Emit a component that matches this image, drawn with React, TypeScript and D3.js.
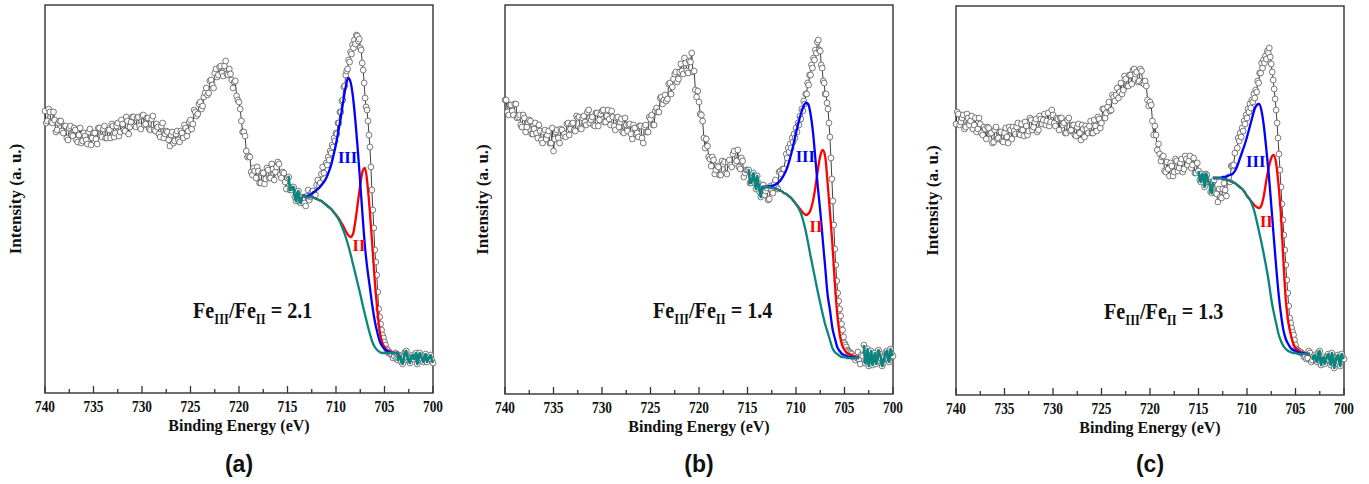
import React from 'react';
import * as d3 from 'd3';

// ---- energy grids (eV) of the measured spectra ----
const LEFT_E0 = 740;
const LEFT_STEP = 0.25;
const MID_E0 = 739.875;
const FINE_E0 = 711;
const FINE_STEP = 0.1;
const RIGHT_E0 = 704.5;
const RIGHT_MID_E0 = 704.375;
const RIGHT_STEP = 0.25;
const FIT_E0 = 713.5;
const FIT_STEP = 0.25;

const majorTicks = [740, 735, 730, 725, 720, 715, 710, 705, 700];
const minorTicks = [737.5, 732.5, 727.5, 722.5, 717.5, 712.5, 707.5, 702.5];

// ---- panel (a) ----
const aLeft = [
  282, 272, 281, 270, 273, 263, 272, 262, 267, 255,
  265, 258, 265, 253, 258, 250, 260, 253, 261, 248,
  260, 254, 265, 257, 264, 255, 263, 255, 267, 260,
  270, 261, 269, 262, 272, 266, 276, 267, 275, 267,
  277, 268, 275, 264, 274, 263, 269, 259, 267, 255,
  262, 253, 258, 250, 259, 253, 262, 255, 265, 262,
  273, 269, 281, 279, 291, 287, 300, 298, 312, 308,
  320, 316, 326, 320, 327, 319, 324, 313, 311, 297,
  291, 272, 261, 242, 237, 221, 225, 215, 222, 210,
  220, 214, 223, 215, 224, 221, 231, 218, 221, 211,
  215, 203, 206, 196, 200, 191, 196, 190, 197, 193,
  201, 199, 208, 208, 219, 220,
];
const aMid = [
  270, 284, 271, 281, 261, 270, 272, 260, 267, 253,
  267, 257, 263, 251, 265, 252, 257, 249, 264, 255,
  260, 249, 265, 256, 267, 255, 263, 269, 256, 267,
  257, 273, 263, 276, 259, 271, 276, 266, 276, 264,
  278, 269, 275, 263, 277, 262, 266, 256, 270, 259,
  261, 247, 261, 252, 262, 251, 260, 268, 257, 271,
  264, 283, 277, 289, 284, 296, 305, 300, 313, 305,
  324, 318, 327, 317, 332, 318, 319, 305, 312, 293,
  284, 261, 257, 236, 236, 218, 222, 226, 210, 220,
  209, 225, 215, 229, 213, 226, 229, 215, 220, 204,
  216, 203, 206, 192, 202, 190, 195, 187, 203, 196,
  202, 198, 213, 210, 226,
];
const aFine = [
  230, 228, 236, 233, 242, 240, 248, 246, 255, 252,
  260, 259, 270, 270, 281, 281, 292, 293, 306, 307,
  318, 322, 324, 333, 331, 341, 339, 348, 345, 353,
  349, 358, 357, 352, 354, 345, 343, 330, 323, 310,
  295, 286, 283, 272, 258, 246, 226, 203, 183, 165,
  143, 131, 118, 101, 84, 76, 69, 63, 58, 55,
  51, 48, 44, 43, 40,
];
const aRight = [41, 38, 37, 34, 38, 31, 36, 42, 32, 37, 34, 40, 33, 37, 31, 39, 34, 38, 30];
const aRightMid = [39, 35, 40, 33, 37, 29, 41, 35, 30, 38, 36, 29, 40, 34, 37, 31, 36, 33];
const aTeal = [
  197, 197, 196, 196, 196, 195, 194, 193, 192, 190, 188, 186, 184, 181, 178, 174, 169, 163, 156, 148,
  139, 129, 119, 109, 99, 88, 78, 68, 59, 51, 46, 43, 41, 40, 40, 40, 40, 40, 40, 40, 40,
];
const aBlue = [
  197, 197, 197, 198, 199, 201, 203, 205, 208, 211, 215, 221, 228, 238, 249, 262, 276, 292, 306, 315,
  311, 296, 272, 243, 210, 176, 145, 123, 105, 87, 72, 61, 52, 47, 44, 42, 41, 40, 40, 40, 40,
];
const aRed = [
  197, 197, 196, 196, 196, 195, 194, 193, 192, 190, 188, 186, 184, 181, 178, 175, 171, 167, 162, 158,
  156, 159, 172, 190, 208, 222, 225, 208, 180, 147, 112, 84, 62, 51, 46, 43, 42, 41, 40, 40, 40,
];

// ---- panel (b) ----
const bLeft = [
  294, 282, 289, 283, 290, 276, 279, 267, 276, 267,
  274, 260, 265, 261, 269, 254, 262, 255, 263, 251,
  243, 262, 256, 265, 258, 257, 271, 265, 271, 263,
  276, 266, 276, 272, 282, 271, 277, 268, 281, 274,
  283, 272, 278, 275, 283, 268, 276, 267, 275, 261,
  269, 269, 260, 269, 260, 257, 268, 251, 269, 262,
  275, 269, 283, 282, 296, 290, 299, 295, 311, 307,
  320, 312, 322, 323, 336, 323, 333, 341, 323, 297,
  292, 279, 256, 255, 237, 228, 234, 224, 227, 219,
  230, 221, 232, 229, 240, 231, 244, 225, 233, 221,
  224, 211, 216, 211, 218, 202, 208, 199, 206, 195,
  204, 210, 207, 222, 220, 225,
];
const bMid = [
  294, 279, 289, 279, 290, 277, 269, 279, 262, 272,
  273, 260, 271, 256, 263, 251, 264, 259, 251, 266,
  255, 264, 251, 264, 260, 270, 259, 270, 264, 278,
  277, 265, 278, 269, 284, 274, 269, 281, 268, 280,
  284, 272, 284, 269, 277, 264, 277, 272, 262, 276,
  263, 270, 255, 266, 261, 268, 256, 267, 262, 277,
  279, 269, 286, 282, 297, 294, 293, 310, 300, 315,
  322, 315, 330, 320, 331, 321, 332, 322, 304, 303,
  280, 273, 246, 248, 235, 237, 220, 228, 219, 233,
  232, 220, 234, 227, 243, 233, 227, 236, 217, 224,
  224, 211, 221, 205, 211, 197, 209, 203, 194, 208,
  201, 214, 205, 223, 225,
];
const bFine = [
  240, 236, 246, 242, 250, 246, 256, 252, 260, 256,
  266, 262, 271, 269, 278, 275, 285, 283, 293, 290,
  300, 300, 311, 309, 319, 319, 329, 326, 336, 334,
  344, 341, 352, 354, 344, 343, 329, 326, 313, 311,
  300, 300, 291, 285, 271, 257, 236, 215, 193, 169,
  145, 129, 113, 101, 93, 85, 78, 70, 64, 57,
  51, 49, 47, 44, 43,
];
const bRight = [42, 40, 38, 36, 35, 39, 49, 33, 28, 43, 35, 30, 44, 36, 31, 42, 34, 45, 38];
const bRightMid = [41, 37, 34, 42, 30, 38, 31, 45, 36, 29, 41, 33, 40, 28, 37, 43, 32, 40];
const bTeal = [
  207, 207, 207, 207, 206, 206, 205, 204, 203, 201, 200, 198, 196, 193, 190, 186, 181, 173, 163, 151,
  138, 126, 114, 102, 91, 80, 70, 62, 54, 46, 42, 40, 38, 37, 37, 36, 36, 36, 36, 36, 36,
];
const bBlue = [
  207, 207, 207, 208, 208, 209, 210, 212, 215, 219, 224, 231, 240, 250, 261, 271, 280, 287, 291, 290,
  280, 262, 235, 207, 183, 155, 128, 100, 84, 66, 56, 47, 43, 40, 39, 38, 37, 37, 36, 36, 36,
];
const bRed = [
  207, 207, 207, 207, 206, 206, 205, 204, 203, 201, 200, 198, 196, 193, 190, 187, 184, 181, 179, 180,
  184, 193, 207, 224, 238, 244, 238, 212, 182, 150, 112, 80, 60, 49, 44, 41, 40, 39, 38, 37, 36,
];

// ---- panel (c) ----
const cLeft = [
  271, 281, 273, 280, 268, 277, 274, 266, 277, 266,
  271, 260, 266, 268, 261, 252, 265, 256, 263, 254,
  262, 258, 268, 256, 264, 268, 261, 271, 259, 269,
  264, 275, 268, 276, 265, 276, 275, 270, 282, 273,
  280, 269, 276, 277, 270, 262, 275, 264, 270, 260,
  268, 262, 270, 258, 266, 269, 262, 275, 264, 276,
  272, 286, 282, 293, 285, 298, 300, 297, 312, 305,
  316, 309, 320, 325, 321, 313, 326, 312, 314, 295,
  293, 274, 269, 245, 241, 238, 224, 233, 219, 229,
  223, 234, 227, 236, 226, 236, 234, 227, 237, 222,
  224, 213, 219, 221, 213, 203, 213, 202, 193, 198,
  206, 205, 217, 213, 229, 242,
];
const cMid = [
  283, 270, 277, 266, 281, 270, 279, 270, 263, 277,
  262, 268, 256, 267, 262, 253, 268, 257, 263, 253,
  267, 252, 265, 268, 261, 272, 260, 265, 273, 260,
  277, 265, 273, 263, 279, 271, 281, 274, 269, 285,
  272, 277, 265, 277, 272, 262, 277, 265, 270, 259,
  271, 255, 266, 269, 262, 274, 262, 269, 278, 267,
  286, 277, 288, 284, 300, 294, 307, 303, 301, 319,
  309, 320, 311, 326, 323, 314, 324, 311, 309, 289,
  290, 260, 260, 251, 234, 239, 223, 226, 232, 219,
  236, 224, 232, 223, 239, 230, 239, 230, 222, 232,
  215, 221, 208, 220, 213, 202, 215, 201, 206, 197,
  212, 199, 218, 229, 230,
];
const cFine = [
  247, 257, 254, 262, 258, 267, 264, 274, 271, 280,
  277, 286, 283, 291, 287, 295, 293, 301, 297, 305,
  303, 314, 312, 322, 322, 332, 327, 335, 332, 339,
  336, 344, 342, 347, 338, 331, 323, 315, 306, 296,
  285, 272, 257, 241, 225, 208, 191, 175, 160, 145,
  130, 115, 102, 89, 77, 72, 67, 63, 60, 55,
  50, 46, 45, 44, 43,
];
const cRight = [43, 41, 39, 37, 42, 35, 40, 33, 44, 36, 31, 39, 35, 42, 27, 38, 33, 41, 36];
const cRightMid = [42, 38, 36, 44, 33, 39, 34, 43, 30, 38, 35, 41, 30, 37, 34, 40, 29, 38];
const cTeal = [
  217, 217, 217, 217, 216, 216, 215, 214, 213, 212, 210, 208, 206, 203, 199, 196, 191, 184, 174, 163,
  152, 140, 127, 113, 96, 83, 72, 61, 54, 49, 46, 44, 43, 42, 42, 41, 41, 41, 41, 41, 41,
];
const cBlue = [
  217, 217, 217, 217, 218, 218, 219, 220, 221, 224, 229, 236, 243, 250, 258, 267, 276, 285, 290, 291,
  284, 268, 245, 220, 190, 159, 129, 102, 81, 65, 56, 51, 47, 45, 44, 43, 42, 42, 41, 41, 41,
];
const cRed = [
  217, 217, 217, 217, 216, 216, 215, 214, 213, 212, 210, 208, 206, 203, 199, 196, 193, 190, 188, 187,
  190, 200, 215, 228, 237, 240, 232, 210, 180, 135, 95, 74, 61, 52, 47, 45, 43, 42, 42, 41, 41,
];

const ratios = ['2.1', '1.4', '1.3'];
const letters = ['(a)', '(b)', '(c)'];

type Pt = { e: number; v: number };
const seg = (vals: number[], e0: number, step: number): Pt[] =>
  vals.map((v, i) => ({ e: +(e0 - step * i).toFixed(4), v }));

const SERIF = "'Liberation Serif', 'Times New Roman', Times, serif";
const SANS = "'Liberation Sans', Arial, Helvetica, sans-serif";

const panels = [
  {
    box: { l: 45, r: 433, t: 5, b: 393 }, yLabelX: 21,
    left: aLeft, mid: aMid, fine: aFine, right: aRight, rightMid: aRightMid,
    teal: aTeal, blue: aBlue, red: aRed,
    bgHigh: [715, 713.5], bgLow: 703.75, ratio: ratios[0], letter: letters[0],
    iii: [708.81, 230], ii: [707.63, 142],
  },
  {
    box: { l: 505, r: 893, t: 5, b: 394 }, yLabelX: 488,
    left: bLeft, mid: bMid, fine: bFine, right: bRight, rightMid: bRightMid,
    teal: bTeal, blue: bBlue, red: bRed,
    bgHigh: [715, 713.5], bgLow: 703.0, ratio: ratios[1], letter: letters[1],
    iii: [709.04, 232], ii: [707.94, 162],
  },
  {
    box: { l: 956, r: 1344, t: 6, b: 395 }, yLabelX: 938,
    left: cLeft, mid: cMid, fine: cFine, right: cRight, rightMid: cRightMid,
    teal: cTeal, blue: cBlue, red: cRed,
    bgHigh: [715, 713.5], bgLow: 703.25, ratio: ratios[2], letter: letters[2],
    iii: [709.1, 228], ii: [708.01, 168],
  },
];

function Panel({ p }: { p: any }) {
  const { l, r, t, b } = p.box;
  const x = d3.scaleLinear().domain([740, 700]).range([l, r]);
  const y = d3.scaleLinear().domain([0, b - t]).range([b, t]);
  const data: Pt[] = [
    ...seg(p.left, LEFT_E0, LEFT_STEP),
    ...seg(p.mid, MID_E0, LEFT_STEP),
    ...seg(p.fine, FINE_E0, FINE_STEP),
    ...seg(p.right, RIGHT_E0, RIGHT_STEP),
    ...seg(p.rightMid, RIGHT_MID_E0, RIGHT_STEP),
  ].sort((u, w) => w.e - u.e);
  const raw = d3.line<Pt>().x((d) => x(d.e)).y((d) => y(d.v));
  const smooth = d3.line<Pt>().x((d) => x(d.e)).y((d) => y(d.v)).curve(d3.curveMonotoneX);
  const bgA = data.filter((d) => d.e <= p.bgHigh[0] && d.e >= p.bgHigh[1]);
  const bgB = data.filter((d) => d.e <= p.bgLow);
  const tealFit = seg(p.teal, FIT_E0, FIT_STEP);
  const blueFit = seg(p.blue, FIT_E0, FIT_STEP);
  const redFit = seg(p.red, FIT_E0, FIT_STEP);
  const cx = (l + r) / 2;
  const cy = (t + b) / 2;
  return (
    <g>
      <rect x={l} y={t} width={r - l} height={b - t} fill="none" stroke="#333" strokeWidth={1.4} />
      {majorTicks.map((e) => (
        <line key={'M' + e} x1={x(e)} x2={x(e)} y1={b} y2={b - 7} stroke="#333" strokeWidth={1.3} />
      ))}
      {minorTicks.map((e) => (
        <line key={'m' + e} x1={x(e)} x2={x(e)} y1={b} y2={b - 4} stroke="#333" strokeWidth={1.3} />
      ))}
      {majorTicks.map((e) => (
        <text key={'L' + e} x={x(e)} y={b + 19} textAnchor="middle" fontFamily={SERIF} fontWeight="bold"
          fontSize={17} textLength={20} lengthAdjust="spacingAndGlyphs" fill="#111">{e}</text>
      ))}
      <path d={raw(data) || ''} fill="none" stroke="#111" strokeWidth={0.8} />
      {data.map((d, i) => (
        <circle key={i} cx={x(d.e)} cy={y(d.v)} r={2.9} fill="#fff" stroke="#444" strokeWidth={0.7} />
      ))}
      <path d={raw(bgA) || ''} fill="none" stroke="#0b8480" strokeWidth={2.6} strokeLinejoin="round" />
      <path d={raw(bgB) || ''} fill="none" stroke="#0b8480" strokeWidth={2.6} strokeLinejoin="round" />
      <path d={smooth(redFit) || ''} fill="none" stroke="#ff0000" strokeWidth={2.3} />
      <path d={smooth(blueFit) || ''} fill="none" stroke="#0000ff" strokeWidth={2.3} />
      <path d={smooth(tealFit) || ''} fill="none" stroke="#0b8480" strokeWidth={2.3} />
      <text x={x(p.iii[0])} y={y(p.iii[1])} textAnchor="middle" fontFamily={SERIF} fontWeight="bold"
        fontSize={16.5} fill="#0000ff">III</text>
      <text x={x(p.ii[0])} y={y(p.ii[1])} textAnchor="middle" fontFamily={SERIF} fontWeight="bold"
        fontSize={16.5} fill="#ff0000">II</text>
      <g transform={`translate(${l + 148},${t + 312.5}) scale(0.84,1)`}>
        <text x={0} y={0} fontFamily={SERIF} fontWeight="bold" fontSize={24} fill="#111">
          Fe<tspan fontSize={15} dy={6}>III</tspan><tspan fontSize={24} dy={-6}>/Fe</tspan>
          <tspan fontSize={15} dy={6}>II</tspan><tspan fontSize={24} dy={-6}>{' = ' + p.ratio}</tspan>
        </text>
      </g>
      <text transform={`translate(${p.yLabelX},${cy}) rotate(-90)`} textAnchor="middle" fontFamily={SERIF}
        fontWeight="bold" fontSize={17} fill="#111">Intensity (a. u.)</text>
      <text x={cx} y={b + 38} textAnchor="middle" fontFamily={SERIF} fontWeight="bold" fontSize={16} fill="#111">
        Binding Energy (eV)
      </text>
      <text x={cx} y={472} textAnchor="middle" fontFamily={SANS} fontWeight="bold" fontSize={23} fill="#111">
        {p.letter}
      </text>
    </g>
  );
}

export default function App() {
  return (
    <svg width={1369} height={484} style={{ position: 'absolute', left: 0, top: 0, background: '#fff' }}>
      <rect x={0} y={0} width={1369} height={484} fill="#fff" />
      {panels.map((p, i) => (
        <Panel key={i} p={p} />
      ))}
    </svg>
  );
}
